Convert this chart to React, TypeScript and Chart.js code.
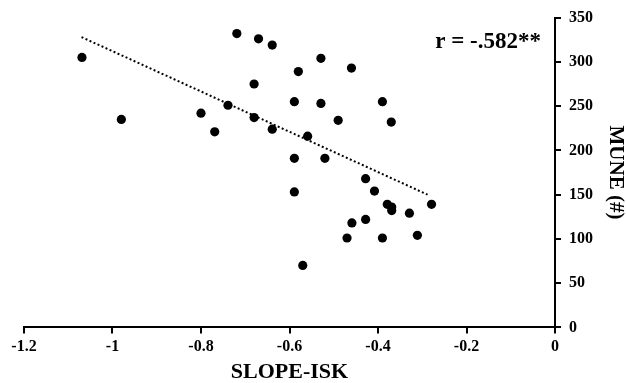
import { useEffect, useRef } from "react";
import { Chart, registerables } from "chart.js";
Chart.register(...registerables);

const slopeIsk = [
  -1.069, -0.98, -0.8, -0.769, -0.739, -0.719, -0.68, -0.68, -0.67, -0.639,
  -0.639, -0.58, -0.589, -0.559, -0.589, -0.529, -0.529, -0.46, -0.39, -0.37,
  -0.49, -0.52, -0.428, -0.589, -0.408, -0.379, -0.369, -0.369, -0.329, -0.279,
  -0.428, -0.459, -0.47, -0.39, -0.311, -0.57,
];
const mune = [
  305, 235, 242, 221, 251, 332, 275, 237, 326, 319,
  224, 289, 255, 216, 191, 304, 253, 293, 255, 232,
  234, 191, 168, 153, 154, 139, 136, 132, 129, 139,
  122, 118, 101, 101, 104, 70,
];
const trendX = [-1.07, -0.288];
const trendY = [328, 150];
const xTicks = [-1.2, -1, -0.8, -0.6, -0.4, -0.2, 0];
const yTicks = [0, 50, 100, 150, 200, 250, 300, 350];
const rLabel = "r = -.582**";
const xTitle = "SLOPE-ISK";
const yTitle = "MUNE (#)";

const FONT = "'Liberation Serif', 'Times New Roman', serif";

export default function App() {
  const ref = useRef<HTMLCanvasElement>(null);
  useEffect(() => {
    if (!ref.current) return;
    const annot = {
      id: "annot",
      afterDraw(chart: any) {
        const { ctx, chartArea } = chart;
        ctx.save();
        ctx.font = `bold 23px ${FONT}`;
        ctx.fillStyle = "#000";
        ctx.textAlign = "right";
        ctx.textBaseline = "middle";
        ctx.fillText(rLabel, chartArea.right - 14, chartArea.top + 24);
        ctx.restore();
      },
    };
    const chart = new Chart(ref.current, {
      type: "scatter",
      data: {
        datasets: [
          {
            data: slopeIsk.map((x, i) => ({ x, y: mune[i] })),
            backgroundColor: "#000",
            borderColor: "#000",
            pointRadius: 4.6,
            pointBorderWidth: 0,
          },
          {
            data: trendX.map((x, i) => ({ x, y: trendY[i] })),
            showLine: true,
            borderColor: "#000",
            borderWidth: 2,
            borderDash: [2, 2.4],
            pointRadius: 0,
            fill: false,
          } as any,
        ],
      },
      options: {
        animation: false,
        responsive: true,
        maintainAspectRatio: false,
        layout: { padding: { left: 24, top: 16, right: 0, bottom: 0 } },
        plugins: { legend: { display: false }, tooltip: { enabled: false } },
        scales: {
          x: {
            type: "linear",
            position: "bottom",
            min: -1.2,
            max: 0,
            afterBuildTicks: (s: any) => {
              s.ticks = xTicks.map((v) => ({ value: v }));
            },
            grid: {
              drawOnChartArea: false,
              drawTicks: true,
              tickLength: 6,
              color: "#000",
              lineWidth: 2,
            },
            border: { display: true, color: "#000", width: 2 },
            ticks: {
              color: "#000",
              padding: 5,
              font: { family: FONT, size: 16, weight: "bold", lineHeight: 1.1 },
              callback: (v: any) => String(Number(Number(v).toFixed(1))),
            },
            title: {
              display: true,
              text: xTitle,
              color: "#000",
              font: { family: FONT, size: 22, weight: "bold", lineHeight: 1 },
              padding: { top: 0, bottom: 0 },
            },
          },
          y: {
            type: "linear",
            position: "right",
            min: 0,
            max: 350,
            afterBuildTicks: (s: any) => {
              s.ticks = yTicks.map((v) => ({ value: v }));
            },
            grid: {
              drawOnChartArea: false,
              drawTicks: true,
              tickLength: 6,
              color: "#000",
              lineWidth: 2,
            },
            border: { display: true, color: "#000", width: 2 },
            ticks: {
              color: "#000",
              padding: 8,
              font: { family: FONT, size: 16, weight: "bold" },
            },
            title: {
              display: true,
              text: yTitle,
              color: "#000",
              font: { family: FONT, size: 21, weight: "bold", lineHeight: 1 },
              padding: { top: 0, bottom: 4 },
            },
          },
        },
      },
      plugins: [annot],
    });
    return () => chart.destroy();
  }, []);
  return (
    <div style={{ position: "fixed", left: 0, top: 0, width: 626, height: 383, background: "#fff" }}>
      <canvas ref={ref} />
    </div>
  );
}
